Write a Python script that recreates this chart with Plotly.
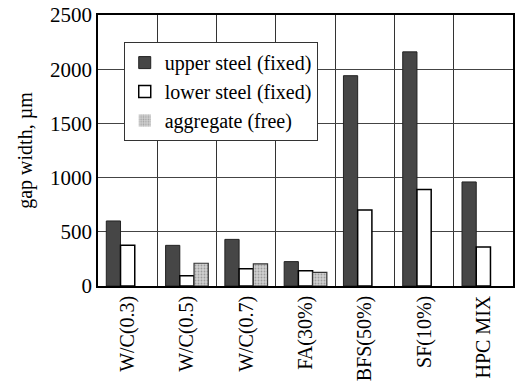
import plotly.graph_objects as go

categories = ["W/C(0.3)", "W/C(0.5)", "W/C(0.7)", "FA(30%)", "BFS(50%)", "SF(10%)", "HPC MIX"]
upper_steel = [600, 375, 430, 225, 1940, 2160, 960]
lower_steel = [375, 95, 160, 140, 700, 890, 360]
aggregate = [0, 210, 205, 125, 0, 0, 0]
y_ticks = [0, 500, 1000, 1500, 2000, 2500]

FONT = "Liberation Serif"


def outline_widths(values, width):
    # no outline for empty bars, so they leave no stub on the baseline
    return [width if v > 0 else 0 for v in values]


fig = go.Figure()
fig.add_trace(go.Bar(
    x=categories, y=upper_steel, name="upper steel (fixed)",
    marker=dict(color="#464646", line=dict(color="#222222", width=outline_widths(upper_steel, 1))),
))
fig.add_trace(go.Bar(
    x=categories, y=lower_steel, name="lower steel (fixed)",
    marker=dict(color="white", line=dict(color="black", width=outline_widths(lower_steel, 1.5))),
))
fig.add_trace(go.Bar(
    x=categories, y=aggregate, name="aggregate (free)",
    marker=dict(color="#c8c8c8", line=dict(color="#333333", width=outline_widths(aggregate, 1.2)),
                pattern=dict(shape=".", fgcolor="#6a6a6a", bgcolor="#d0d0d0",
                             size=3, solidity=0.3)),
))

fig.update_layout(
    width=518, height=384,
    margin=dict(l=98, r=3, t=14, b=96),
    paper_bgcolor="white", plot_bgcolor="white",
    font=dict(family=FONT, size=20, color="black"),
    barmode="group", bargap=0.28, bargroupgap=0,
    showlegend=True,
    legend=dict(
        x=0.062, y=0.9, xanchor="left", yanchor="top",
        bgcolor="white", bordercolor="#333333", borderwidth=1,
        font=dict(family=FONT, size=20, color="black"),
        itemwidth=30, tracegroupgap=0,
    ),
    xaxis=dict(
        type="category", tickson="boundaries", tickangle=-90,
        showgrid=True, gridcolor="#333333", gridwidth=1,
        showline=True, linecolor="black", linewidth=1.5, mirror=True,
        ticks="", tickfont=dict(family=FONT, size=20),
    ),
    yaxis=dict(
        range=[0, 2500], tickvals=y_ticks, ticks="",
        showgrid=True, gridcolor="#444444", gridwidth=1,
        showline=True, linecolor="black", linewidth=1.5, mirror=True,
        zeroline=False,
        title=dict(text="gap width, µm", font=dict(family=FONT, size=20), standoff=12),
        tickfont=dict(family=FONT, size=21),
    ),
)

fig.write_html("out.html")
